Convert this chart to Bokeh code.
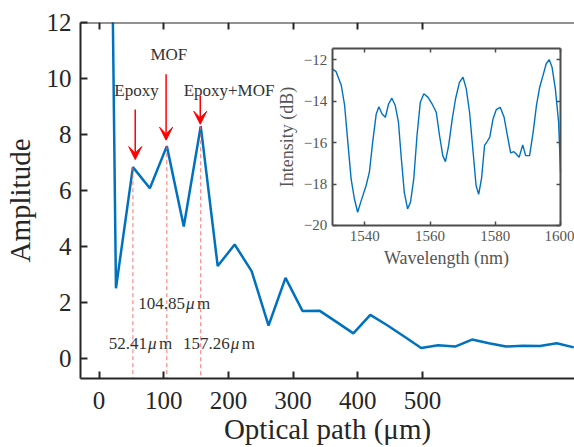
from bokeh.plotting import figure
from bokeh.models import (Range1d, LinearAxis, FixedTicker, Arrow, VeeHead,
                          ColumnDataSource)
from bokeh.core.properties import value
from bokeh.embed import file_html
from bokeh.resources import INLINE

# ---------------- data ----------------
path_um = [0.0, 26.21, 52.41, 78.62, 104.85, 131.04, 157.26, 183.47, 209.68,
           235.89, 262.10, 288.31, 314.52, 340.73, 366.94, 393.15, 419.36,
           445.57, 471.78, 497.99, 524.20, 550.41, 576.62, 602.83, 629.04,
           655.25, 681.46, 707.67, 733.88]
amplitude = [55.0, 2.52, 6.84, 6.09, 7.59, 4.72, 8.30, 3.31, 4.08,
             3.13, 1.19, 2.89, 1.71, 1.72, 1.32, 0.91, 1.57,
             1.20, 0.80, 0.39, 0.49, 0.44, 0.69, 0.56, 0.44,
             0.47, 0.46, 0.56, 0.41]
x_ticks = [0, 100, 200, 300, 400, 500]
y_ticks = [0, 2, 4, 6, 8, 10, 12]

peak_pos = [52.41, 104.85, 157.26]
peak_amp = [6.84, 7.59, 8.30]
peak_text = ["52.41", "104.85", "157.26"]
peak_text_x = [14.9, 60.6, 129.8]
peak_text_y = [0.54, 1.96, 0.56]

layer_names = ["Epoxy", "MOF", "Epoxy+MOF"]
layer_x = [58.0, 108.0, 201.0]
layer_y = [9.58, 10.86, 9.58]
arrow_x = [56.0, 103.7, 156.5]
arrow_y0 = [8.90, 10.15, 9.40]
arrow_y1 = [7.11, 7.80, 8.37]

wavelength = [1530.0, 1531.2, 1532.8, 1533.8, 1534.8, 1535.8, 1536.8, 1537.8,
              1538.9, 1540.4, 1541.4, 1542.4, 1543.5, 1544.3, 1545.3, 1546.3,
              1547.3, 1548.3, 1549.3, 1550.3, 1551.1, 1552.1, 1553.1, 1554.0,
              1555.0, 1556.0, 1557.0, 1558.1, 1559.4, 1560.6, 1561.9, 1562.9,
              1563.9, 1564.7, 1565.7, 1566.8, 1567.8, 1569.0, 1570.1, 1571.1,
              1572.1, 1573.2, 1574.1, 1574.9, 1575.8, 1576.7, 1577.5, 1578.3,
              1579.3, 1580.3, 1581.5, 1582.7, 1583.7, 1584.7, 1585.7, 1586.4,
              1587.3, 1588.4, 1589.3, 1590.5, 1591.6, 1592.6, 1593.6, 1594.6,
              1595.6, 1596.5, 1597.4, 1598.4, 1599.4, 1600.0]
intensity = [-12.45, -12.58, -13.25, -14.20, -15.99, -17.75, -18.71, -19.36,
             -18.80, -18.07, -17.43, -15.99, -14.62, -14.27, -14.62, -14.78,
             -14.13, -13.86, -14.20, -15.00, -16.60, -18.40, -19.20, -18.88,
             -17.75, -15.66, -14.06, -13.65, -13.82, -14.13, -14.54, -15.66,
             -16.63, -16.92, -16.14, -14.86, -13.90, -13.10, -12.85, -13.41,
             -14.54, -16.47, -18.07, -18.50, -17.70, -16.14, -15.95, -15.74,
             -14.86, -14.41, -14.30, -14.78, -15.66, -16.50, -16.44, -16.55,
             -16.71, -16.11, -16.63, -16.63, -15.50, -14.22, -13.33, -12.77,
             -12.20, -12.00, -12.37, -13.41, -15.02, -17.43]
inset_x_ticks = [1540, 1560, 1580, 1600]
inset_y_ticks = [-20, -18, -16, -14, -12]
inset_xlim = (1530, 1600)
inset_ylim = (-20, -11.45)

# ---------------- styling ----------------
SERIF = "Liberation Serif"
DARK = "#262626"
GRAY = "#555555"
BLUE = "#0072BD"

main_xlim = (-28.6, 735.0)
main_ylim = (-0.7, 12.0)

p = figure(width=574, height=447,
           x_range=Range1d(*main_xlim), y_range=Range1d(*main_ylim),
           output_backend="svg", toolbar_location=None,
           min_border_left=78, min_border_right=0,
           min_border_top=22, min_border_bottom=69)
p.outline_line_color = None
p.grid.visible = False
p.background_fill_color = "white"

for ax in (p.xaxis[0], p.yaxis[0]):
    ax.axis_line_color = DARK
    ax.axis_line_width = 2
    ax.major_tick_line_color = DARK
    ax.major_tick_line_width = 2
    ax.major_tick_in = 7
    ax.major_tick_out = 0
    ax.minor_tick_line_color = None
    ax.major_label_text_font = SERIF
    ax.major_label_text_font_size = "25px"
    ax.major_label_text_color = DARK
    ax.axis_label_text_font = SERIF
    ax.axis_label_text_font_size = "29px"
    ax.axis_label_text_font_style = "normal"
    ax.axis_label_text_color = DARK

p.xaxis[0].ticker = FixedTicker(ticks=x_ticks)
p.yaxis[0].ticker = FixedTicker(ticks=y_ticks)
p.xaxis[0].axis_label = "Optical path (μm)"
p.yaxis[0].axis_label = "Amplitude"
p.xaxis[0].major_label_standoff = 13
p.xaxis[0].axis_label_standoff = 1
p.yaxis[0].major_label_standoff = 9
p.yaxis[0].axis_label_standoff = 8

# top border of the main box (ticks inward, no labels)
top_ax = LinearAxis(ticker=FixedTicker(ticks=x_ticks), fixed_location=main_ylim[1],
                    axis_line_color=DARK, axis_line_width=2,
                    major_tick_line_color=DARK, major_tick_line_width=2,
                    major_tick_in=7, major_tick_out=0,
                    minor_tick_line_color=None, major_label_text_color=None,
                    major_label_text_font_size="1px")
p.add_layout(top_ax, "above")

# main spectrum
p.line(path_um, amplitude, line_color=BLUE, line_width=2.5)

# dashed red markers
p.segment(x0=peak_pos, y0=peak_amp, x1=peak_pos, y1=[main_ylim[0]] * len(peak_pos),
          line_color="#ff5a5a", line_width=1, line_dash="4 3", line_alpha=0.85)

# red arrows
arrow_src = ColumnDataSource(dict(x0=arrow_x, y0=arrow_y0, x1=arrow_x, y1=arrow_y1))
p.add_layout(Arrow(end=VeeHead(size=13, fill_color="red", line_color="red"),
                   x_start="x0", y_start="y0", x_end="x1", y_end="y1",
                   line_color="red", line_width=1.5, source=arrow_src))

# layer labels
p.text(x=layer_x, y=layer_y, text=layer_names, text_font=value(SERIF),
       text_font_size="17px", text_color="#333333", text_align="center",
       text_baseline="alphabetic")

# peak position labels: number + italic mu + m
FS = 17
num_w = [sum(0.25 if c == "." else 0.5 for c in s) * FS for s in peak_text]
p.text(x=peak_text_x, y=peak_text_y, text=peak_text, text_font=value(SERIF),
       text_font_size=f"{FS}px", text_color="#333333", text_align="left",
       text_baseline="alphabetic")
mu_src = ColumnDataSource(dict(x=peak_text_x, y=peak_text_y, t=["μ"] * 3,
                               off=[w + 1 for w in num_w]))
p.text(x="x", y="y", text="t", x_offset="off", source=mu_src,
       text_font=value(SERIF), text_font_style="italic",
       text_font_size=f"{FS}px", text_color="#333333", text_align="left",
       text_baseline="alphabetic")
m_src = ColumnDataSource(dict(x=peak_text_x, y=peak_text_y, t=["m"] * 3,
                              off=[w + 12 for w in num_w]))
p.text(x="x", y="y", text="t", x_offset="off", source=m_src,
       text_font=value(SERIF), text_font_size=f"{FS}px", text_color="#333333",
       text_align="left", text_baseline="alphabetic")

# ---------------- inset (own ranges placed in part of the frame) ----------------
fl, fr = 0.5095, 0.9718          # inset left/right as fraction of frame width
fb, ft = 0.4298, 0.9278          # inset bottom/top as fraction of frame height
xs = (inset_xlim[1] - inset_xlim[0]) / (fr - fl)
ys = (inset_ylim[1] - inset_ylim[0]) / (ft - fb)
p.extra_x_ranges = {"ix": Range1d(inset_xlim[0] - fl * xs, inset_xlim[1] + (1 - fr) * xs)}
p.extra_y_ranges = {"iy": Range1d(inset_ylim[0] - fb * ys, inset_ylim[1] + (1 - ft) * ys)}

p.quad(left=[inset_xlim[0]], right=[inset_xlim[1]], bottom=[inset_ylim[0]],
       top=[inset_ylim[1]], fill_color="white", line_color=None,
       x_range_name="ix", y_range_name="iy")
p.line(wavelength, intensity, line_color=BLUE, line_width=1.4,
       x_range_name="ix", y_range_name="iy")

FRAME = "#4d4d4d"
def inset_axis(ticks, loc, bounds, label="", show_labels=True):
    a = LinearAxis(x_range_name="ix", y_range_name="iy",
                   ticker=FixedTicker(ticks=ticks), fixed_location=loc,
                   bounds=bounds, axis_line_color=FRAME, axis_line_width=2,
                   major_tick_line_color=FRAME, major_tick_line_width=1.5,
                   major_tick_in=4, major_tick_out=0, minor_tick_line_color=None,
                   major_label_text_font=SERIF, major_label_text_font_size="15px",
                   major_label_text_color=GRAY if show_labels else None,
                   axis_label=label, axis_label_text_font=SERIF,
                   axis_label_text_font_size="18px",
                   axis_label_text_font_style="normal",
                   axis_label_text_color=GRAY)
    return a

ax_l = inset_axis(inset_y_ticks, inset_xlim[0], inset_ylim, "Intensity (dB)")
ax_l.major_label_standoff = 5
ax_l.axis_label_standoff = 4
p.add_layout(ax_l, "left")
ax_b = inset_axis(inset_x_ticks, inset_ylim[0], inset_xlim, "Wavelength (nm)")
ax_b.major_label_standoff = 6
ax_b.axis_label_standoff = 3
p.add_layout(ax_b, "below")
ax_t = inset_axis(inset_x_ticks, inset_ylim[1], inset_xlim, show_labels=False)
p.add_layout(ax_t, "above")
ax_r = inset_axis(inset_y_ticks, inset_xlim[1], inset_ylim, show_labels=False)
p.add_layout(ax_r, "right")

open("out.html", "w").write(file_html(p, INLINE))
